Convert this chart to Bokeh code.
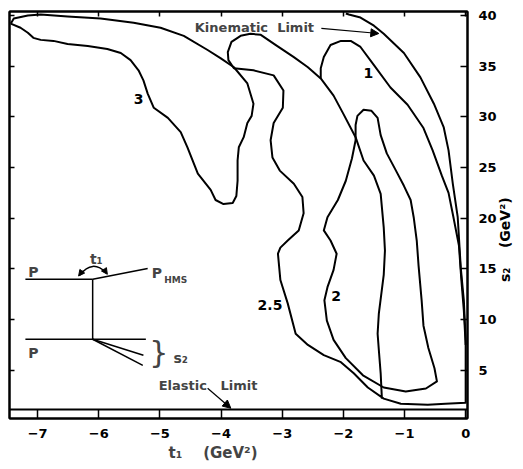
import math
from bokeh.plotting import figure
from bokeh.models import (LinearAxis, FixedTicker, Label, Arrow, NormalHead, Span, Title,
                          CustomLabelingPolicy)
from bokeh.embed import file_html
from bokeh.resources import INLINE

# ---------------- data (t1 in GeV^2, s2 in GeV^2) ----------------
c3_t = [-7.44, -7.39, -7.16, -6.95, -6.51, -5.97, -5.43, -4.99, -4.61, -4.22, -4.01, -3.79,
        -3.57, -3.47, -3.50, -3.57, -3.63, -3.71, -3.73, -3.73, -3.75, -3.81, -3.96, -4.09,
        -4.17, -4.38, -4.55, -4.66, -4.87, -5.10, -5.20, -5.27, -5.35, -5.48, -5.64, -5.86,
        -6.18, -6.51, -6.74, -6.95, -7.07, -7.16, -7.28, -7.44]
c3_s2 = [39.2, 39.7, 40.0, 40.1, 39.9, 39.7, 39.3, 38.8, 38.0, 36.6, 35.8, 34.9,
         33.3, 31.3, 30.1, 29.4, 28.0, 27.0, 25.7, 23.7, 22.2, 21.5, 21.4, 21.8,
         22.8, 24.4, 27.0, 28.5, 29.9, 30.9, 32.3, 33.6, 34.6, 35.6, 36.3, 36.7,
         37.0, 37.2, 37.5, 37.6, 37.8, 38.3, 38.8, 39.2]

c25_t = [0.0, 0.0, -0.33, -0.62, -1.06, -1.34, -1.60, -1.83, -2.04, -2.32, -2.58, -2.78,
         -2.91, -3.03, -3.07, -3.03, -2.91, -2.73, -2.65, -2.67, -2.81, -3.04, -3.16, -3.19,
         -3.14, -2.99, -2.98, -3.14, -3.47, -3.79, -3.88, -3.89, -3.83, -3.68, -3.52, -3.35,
         -3.11, -2.81, -2.58, -2.37, -2.16, -2.00, -1.80, -1.67, -1.50, -1.39, -1.34, -1.32,
         -1.34, -1.42, -1.44, -1.42, -1.39, -1.37]
c25_s2 = [8.0, 1.8, 1.7, 1.6, 1.7, 2.2, 3.3, 4.7, 5.8, 6.5, 7.5, 8.6,
          11.6, 13.9, 16.5, 17.1, 17.8, 18.8, 20.5, 22.1, 23.4, 24.7, 26.0, 27.7,
          29.4, 30.9, 32.6, 34.1, 34.6, 34.8, 35.6, 36.4, 37.4, 38.0, 38.2, 38.1,
          37.1, 35.9, 34.9, 33.8, 32.1, 30.3, 28.0, 25.7, 24.2, 22.4, 19.1, 16.8,
          14.4, 10.6, 8.6, 7.0, 4.7, 2.2]

c2_t = [-1.80, -1.80, -1.77, -1.67, -1.54, -1.44, -1.39, -1.29, -1.14, -1.01, -0.90, -0.85,
        -0.80, -0.77, -0.72, -0.69, -0.61, -0.51, -0.47, -0.65, -0.98, -1.34, -1.68, -1.96,
        -2.16, -2.27, -2.31, -2.26, -2.16, -2.11, -2.21, -2.32, -2.26, -2.09, -1.96, -1.86, -1.80]
c2_s2 = [27.7, 29.2, 30.1, 30.7, 30.6, 29.9, 28.2, 26.4, 24.7, 23.2, 21.8, 20.1,
         17.8, 15.3, 11.9, 9.4, 7.2, 5.2, 3.9, 3.2, 2.9, 3.3, 4.5, 6.2,
         8.0, 9.9, 11.9, 13.2, 14.9, 16.5, 17.8, 18.8, 20.1, 21.8, 23.7, 25.9, 27.7]

c1_t = [-2.37, -2.37, -2.32, -2.21, -2.04, -1.88, -1.72, -1.50, -1.23, -0.95, -0.69, -0.54,
        -0.39, -0.28, -0.20, -0.11, -0.07, -0.03, 0.0]
c1_s2 = [33.8, 34.8, 35.9, 37.1, 37.5, 37.5, 36.9, 35.1, 32.9, 31.2, 28.9, 26.7,
         24.2, 22.5, 20.1, 17.3, 13.9, 10.9, 7.5]

kin_t = [-1.96, -1.91, -1.72, -1.50, -1.34, -1.01, -0.74, -0.52, -0.36, -0.28, -0.21, -0.13,
         -0.08, -0.03, 0.0]
kin_s2 = [40.2, 40.1, 39.8, 39.0, 38.2, 36.3, 33.9, 31.3, 29.0, 26.7, 23.4, 20.1,
          15.1, 11.9, 8.0]

elastic_s2 = 1.12

t_ticks = [-7, -6, -5, -4, -3, -2, -1, 0]
s2_ticks = [5, 10, 15, 20, 25, 30, 35, 40]

contour_labels = ["3", "2.5", "2", "1"]
label_t = [-5.35, -3.20, -2.12, -1.59]
label_s2 = [31.8, 11.4, 12.3, 34.3]

# inset diagram (drawn in the same t1 / s2 frame)
diag_seg_x0 = [-7.20, -6.10, -6.10, -7.20, -6.10, -6.10]
diag_seg_y0 = [13.97, 13.97, 13.97, 8.06, 8.06, 8.06]
diag_seg_x1 = [-6.10, -5.20, -6.10, -5.23, -5.27, -5.28]
diag_seg_y1 = [13.97, 15.05, 8.06, 8.06, 6.48, 5.49]

FONT = "DejaVu Sans"
NB = "\u00a0"

p = figure(width=523, height=469, x_range=(-7.46, 0.03), y_range=(0.24, 40.4),
           output_backend="svg", toolbar_location=None,
           x_axis_location="below", y_axis_location="right",
           min_border_left=9, min_border_right=56, min_border_top=11, min_border_bottom=51)
p.grid.visible = False
p.background_fill_color = "white"
p.border_fill_color = "white"
p.outline_line_color = "black"
p.outline_line_width = 2

xa = p.xaxis[0]
xa.ticker = FixedTicker(ticks=t_ticks)
xa.major_tick_in = 9
xa.major_tick_out = 0
xa.minor_tick_line_color = None
xa.axis_line_width = 2
xa.major_tick_line_width = 1.5
xa.major_label_text_font = FONT
xa.major_label_text_font_style = "bold"
xa.major_label_text_font_size = "13px"
xa.major_label_text_color = "black"
xa.major_label_standoff = 10

ya = p.yaxis[0]
ya.ticker = FixedTicker(ticks=s2_ticks)
ya.major_tick_in = 7
ya.major_tick_out = 0
ya.minor_tick_line_color = None
ya.axis_line_width = 2
ya.major_tick_line_width = 1.5
ya.major_label_text_font = FONT
ya.major_label_text_font_style = "bold"
ya.major_label_text_font_size = "13px"
ya.major_label_text_color = "black"
ya.major_label_standoff = 11
ya.axis_label_text_font = FONT
ya.axis_label_text_font_style = "bold"
ya.axis_label_text_font_size = "14px"
ya.axis_label_text_color = "black"
ya.axis_label_standoff = 5
y_title = "s₂" + NB * 4 + "(GeV²)"
try:
    ya.axis_label_orientation = math.pi / 2
except Exception:
    pass
try:
    ya.axis_label_align = "start"
    ya.axis_label = NB * 28 + y_title
except Exception:
    ya.axis_label = y_title

no_labels = CustomLabelingPolicy(
    code="try { return new indices.constructor(indices.size, 0) } catch (e) { return indices }")

la = LinearAxis(ticker=FixedTicker(ticks=s2_ticks), major_tick_in=5, major_tick_out=0,
                minor_tick_line_color=None, major_label_text_font_size="0px",
                major_label_policy=no_labels,
                major_label_standoff=0, axis_line_width=2, major_tick_line_width=1.5)
p.add_layout(la, "left")
ta = LinearAxis(ticker=FixedTicker(ticks=t_ticks), major_tick_in=5, major_tick_out=0,
                minor_tick_line_color=None, major_label_text_font_size="0px",
                major_label_policy=no_labels,
                major_label_standoff=0, axis_line_width=2, major_tick_line_width=1.5)
p.add_layout(ta, "above")

LW = 2
for xs, ys in [(c3_t, c3_s2), (c25_t, c25_s2), (c2_t, c2_s2), (c1_t, c1_s2), (kin_t, kin_s2)]:
    p.line(xs, ys, line_color="black", line_width=LW, line_join="round")

p.add_layout(Span(location=elastic_s2, dimension="width", line_color="black", line_width=LW))

for txt, x, y in zip(contour_labels, label_t, label_s2):
    p.add_layout(Label(x=x, y=y, text=txt, text_font=FONT, text_font_size="14px",
                       text_font_style="bold",
                       text_align="center", text_baseline="middle", text_color="black"))

# annotations
p.add_layout(Label(x=-4.43, y=38.83, text="Kinematic" + NB * 2 + "Limit", text_font=FONT,
                   text_font_size="13px", text_font_style="bold",
                   text_align="left", text_baseline="middle"))
p.add_layout(Arrow(end=NormalHead(size=8, fill_color="black", line_color="black"),
                   x_start=-2.36, y_start=38.73, x_end=-1.42, y_end=38.23, line_width=1.2))
p.add_layout(Label(x=-5.02, y=3.52, text="Elastic" + NB * 3 + "Limit", text_font=FONT,
                   text_font_size="13px", text_font_style="bold",
                   text_align="left", text_baseline="middle"))
p.add_layout(Arrow(end=NormalHead(size=8, fill_color="black", line_color="black"),
                   x_start=-4.22, y_start=3.22, x_end=-3.84, y_end=1.25, line_width=1.2))

# inset diagram
p.segment(diag_seg_x0, diag_seg_y0, diag_seg_x1, diag_seg_y1, line_color="black", line_width=1.5)
p.quadratic(x0=[-6.31], y0=[14.4], x1=[-5.88], y1=[14.6], cx=[-6.10], cy=[16.0],
            line_color="black", line_width=1.5)
p.add_layout(Arrow(end=NormalHead(size=6, fill_color="black", line_color="black"),
                   x_start=-6.26, y_start=14.85, x_end=-6.33, y_end=14.30, line_width=1))
p.add_layout(Arrow(end=NormalHead(size=6, fill_color="black", line_color="black"),
                   x_start=-5.92, y_start=15.0, x_end=-5.86, y_end=14.47, line_width=1))
for txt, x, y in [("P", -7.07, 14.66), ("P", -7.07, 6.68), ("P", -5.05, 14.56),
                  ("t₁", -6.04, 15.95), ("s₂", -4.66, 6.18)]:
    p.add_layout(Label(x=x, y=y, text=txt, text_font=FONT, text_font_size="14px",
                       text_font_style="bold",
                       text_align="center", text_baseline="middle"))
p.add_layout(Label(x=-4.93, y=13.9, text="HMS", text_font=FONT, text_font_size="9px",
                   text_font_style="bold", text_align="left", text_baseline="middle"))
p.add_layout(Label(x=-5.02, y=6.75, text="}", text_font=FONT, text_font_size="30px",
                   text_align="center", text_baseline="middle"))

# x axis title, placed left of centre as in the original
p.add_layout(Title(text="t₁" + NB * 4 + "(GeV²)", align="left", offset=159, standoff=2,
                   text_font=FONT, text_font_size="15px", text_font_style="bold"), "below")

open("out.html", "w").write(file_html(p, INLINE))
